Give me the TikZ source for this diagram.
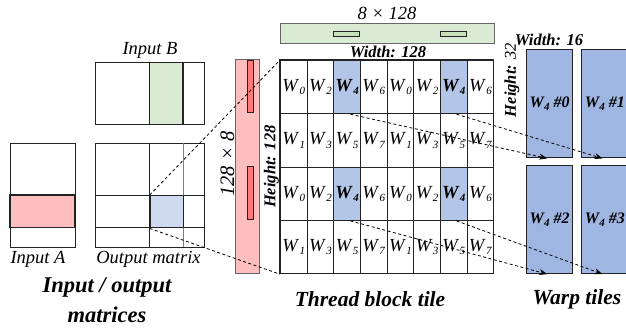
\documentclass[tikz,border=0pt]{standalone}
\usepackage{fontspec}
\setmainfont{Liberation Serif}
\usetikzlibrary{calc,arrows.meta}
\definecolor{pinkA}{RGB}{255,190,190}
\definecolor{redA}{RGB}{255,122,122}
\definecolor{greenB}{RGB}{219,235,211}
\definecolor{greenC}{RGB}{200,226,186}
\definecolor{blueC}{RGB}{180,198,231}
\definecolor{blueO}{RGB}{205,218,240}
\definecolor{blueW}{RGB}{160,182,226}
\definecolor{lineC}{RGB}{35,35,35}
\newcommand{\Wn}[1]{\textit{W}\kern0.3pt\raisebox{-0.4ex}{\fontsize{11}{11}\selectfont\textit{#1}}}
\newcommand{\Wbn}[1]{\textbf{\textit{W}}\kern0.3pt\raisebox{-0.4ex}{\fontsize{11}{11}\selectfont\textbf{\textit{#1}}}}
\tikzset{
  boxline/.style={draw=lineC, line width=1.1pt},
  cellbox/.style={draw=lineC, line width=0.9pt, minimum width=26.667pt, minimum height=53.333pt, inner sep=0pt, font=\fontsize{18.5}{18.5}\selectfont},
  warptile/.style={draw=lineC, line width=1.1pt, fill=blueW, minimum width=46.6pt, minimum height=108pt, inner sep=0pt, anchor=north west, font=\fontsize{16}{16}\selectfont\bfseries\itshape},
  lbl/.style={font=\fontsize{18.5}{18.5}\selectfont\itshape, inner sep=0pt},
  ttl/.style={font=\fontsize{21.5}{21.5}\selectfont\bfseries\itshape, inner sep=0pt},
  dimlbl/.style={font=\fontsize{16.5}{16.5}\selectfont\bfseries\itshape, inner sep=0pt},
  dashline/.style={dashed, dash pattern=on 3pt off 2.5pt, line width=0.8pt, black},
  dasharrow/.style={dashline, -{Stealth[length=8pt,width=6pt]}},
}
\begin{document}
\begin{tikzpicture}[x=1pt,y=-1pt]
\useasboundingbox (0,0) rectangle (626,327);

% ---- Input B
\fill[greenB] (149.7,61.7) rectangle (183,124.3);
\node[boxline, minimum width=109pt, minimum height=62.6pt, inner sep=0pt, anchor=north west] (inB) at (95,61.7) {};
\draw[boxline] (149.7,61.7) -- (149.7,124.3) (183,61.7) -- (183,124.3);
\node[lbl] (inBl) at (150,50) {Input B};

% ---- Input A
\node[boxline, minimum width=65pt, minimum height=104.6pt, inner sep=0pt, anchor=north west] (inA) at (10,142.7) {};
\draw[boxline, fill=pinkA] (10,195) rectangle (75,227.3);
\node[lbl] (inAl) at (38,259) {Input A};

% ---- Output matrix
\node[boxline, minimum width=109pt, minimum height=104.6pt, inner sep=0pt, anchor=north west] (outM) at (95,142.7) {};
\draw[line width=1pt, gray] (183,142.7) -- (183,247.3);
\draw[line width=1pt, lineC] (149.7,142.7) -- (149.7,247.3)
  (95,195) -- (204,195) (95,227.3) -- (204,227.3);
\node[boxline, fill=blueO, minimum width=33.3pt, minimum height=32.3pt, inner sep=0pt, anchor=north west] (outC) at (149.7,195) {};
\node[lbl] (outl) at (148.5,259) {Output matrix};

\node[ttl, font=\fontsize{22.5}{22.5}\selectfont\bfseries\itshape] (t1) at (107,287) {Input / output};
\node[ttl, font=\fontsize{22.5}{22.5}\selectfont\bfseries\itshape] (t2) at (107,315) {matrices};

% ---- A slice 128x8
\node[draw=gray!80!black, line width=1pt, fill=pinkA, minimum width=24.3pt, minimum height=213.4pt, inner sep=0pt, anchor=north west] (abar) at (235,59.3) {};
\draw[draw=lineC, line width=0.9pt, fill=redA] (247.3,60) rectangle (253.3,112.7);
\draw[draw=lineC, line width=0.9pt, fill=redA] (247.3,166.7) rectangle (253.3,219.3);
\node[lbl, rotate=90, font=\fontsize{20.5}{20.5}\selectfont\itshape] (abarl) at (227.5,164) {128 × 8};

% ---- B slice 8x128
\node[draw=gray!80!black, line width=1pt, fill=greenB, minimum width=214pt, minimum height=20pt, inner sep=0pt, anchor=north west] (bbar) at (280,23) {};
\draw[draw=lineC, line width=0.9pt, fill=greenC] (333.3,31.7) rectangle (359.3,36.7);
\draw[draw=lineC, line width=0.9pt, fill=greenC] (440,31.7) rectangle (466.7,36.7);
\node[lbl] (bbarl) at (387,13) {8 × 128};

% ---- Thread block tile grid
\foreach \r in {0,1,2,3}{
  \foreach \c in {0,...,7}{
    \pgfmathtruncatemacro{\idx}{2*mod(\c,4)+mod(\r,2)}
    \pgfmathtruncatemacro{\isb}{(\idx==4)?1:0}
    \ifnum\isb=1
      \node[cellbox, fill=blueC, anchor=north west] (c\r\c) at ({280+26.667*\c},{60+53.333*\r}) {\Wbn{\idx}};
    \else
      \node[cellbox, anchor=north west] (c\r\c) at ({280+26.667*\c},{60+53.333*\r}) {\Wn{\idx}};
    \fi
  }
}
\draw[line width=1.1pt, lineC] (280,60) rectangle (493.3,273.3);
\node[dimlbl] (wl) at (388,52) {Width: 128};
\node[dimlbl, rotate=90] (hl) at (271.5,166.7) {Height: 128};
\node[ttl] (t3) at (370,299) {Thread block tile};

% ---- Warp tiles
\node[warptile] (w0) at (525.7,49.3) {\Wbn{4} \#0};
\node[warptile] (w1) at (581,49.3) {\Wbn{4} \#1};
\node[warptile] (w2) at (525.7,165) {\Wbn{4} \#2};
\node[warptile] (w3) at (581,165) {\Wbn{4} \#3};
\node[dimlbl] (wl2) at (549,40) {Width: 16};
\node[dimlbl, rotate=90] (hl2) at (512,80) {Height: \textmd{32}};
\node[ttl] (t4) at (577,299) {Warp tiles};

% ---- dashed projection lines
\draw[dashline] (outC.north west) -- (c00.north west);
\draw[dashline] (outC.south west) -- (c30.south west);

% ---- dashed arrows
\coordinate (s0) at ($(c02.south west)!0.62!(c02.south east)$);
\coordinate (s1) at ($(c06.south west)!0.6!(c06.south east)$);
\coordinate (s2) at ($(c22.south west)!0.62!(c22.south east)$);
\coordinate (s3) at ($(c26.south west)!0.6!(c26.south east)$);
\coordinate (e0) at ($(w0.south west)!0.45!(w0.south east)$);
\coordinate (e1) at ($(w1.south west)!0.45!(w1.south east)$);
\coordinate (e2) at ($(w2.south west)!0.45!(w2.south east)$);
\coordinate (e3) at ($(w3.south west)!0.45!(w3.south east)$);
\draw[dasharrow] (s0) -- (e0);
\draw[dasharrow] (s1) -- (e1);
\draw[dasharrow] (s2) -- (e2);
\draw[dasharrow] (s3) -- (e3);
\end{tikzpicture}
\end{document}
